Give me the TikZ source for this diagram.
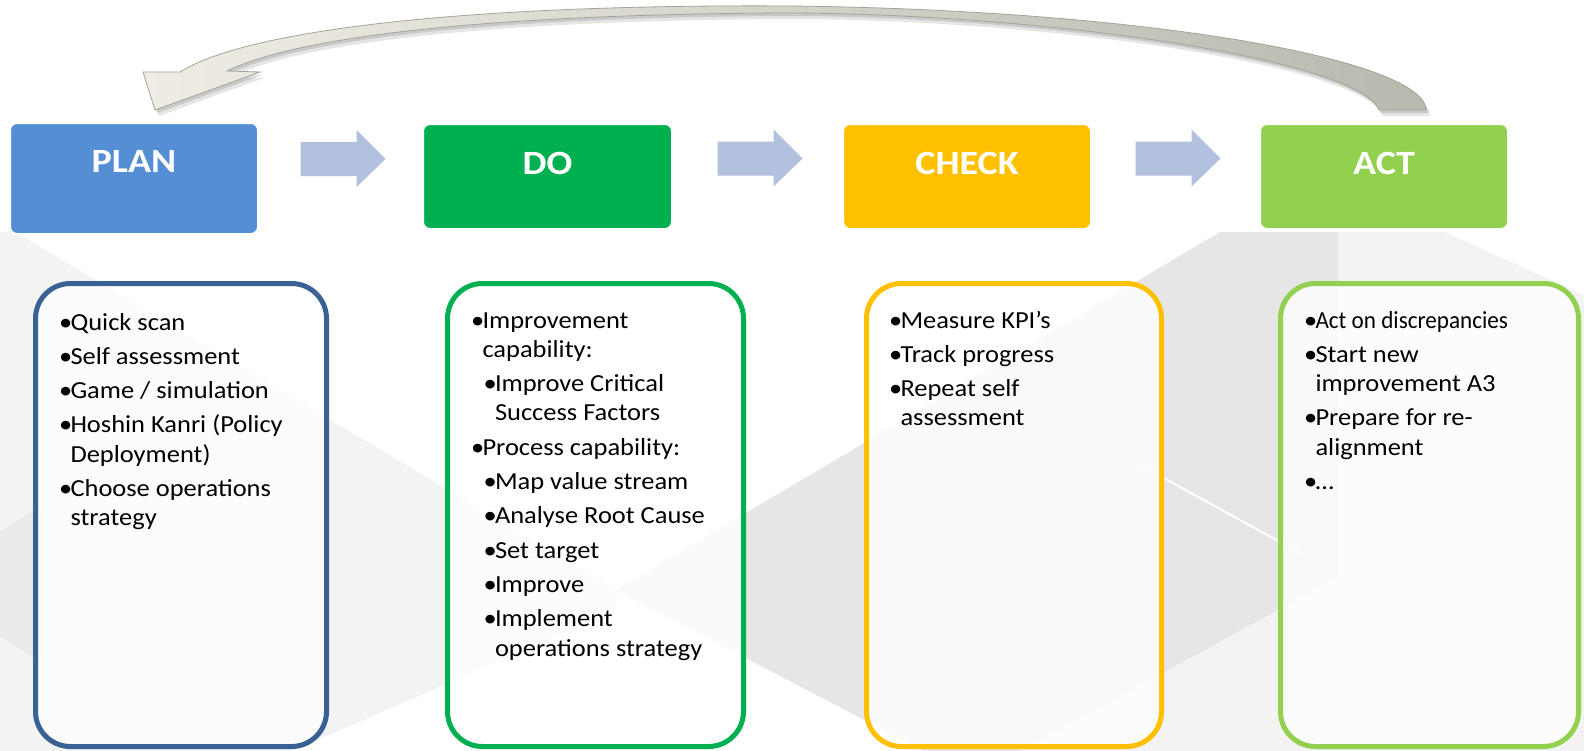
\documentclass[tikz,border=0pt]{standalone}
\usepackage{fontspec}
\usepackage{graphicx}
\setmainfont{Carlito}[FakeStretch=1.08]
\newfontfamily\hdrfont{Carlito}[FakeStretch=1.12]
\usetikzlibrary{calc}
\definecolor{plancol}{HTML}{558ED5}
\definecolor{docol}{HTML}{00B050}
\definecolor{checkcol}{HTML}{FFC000}
\definecolor{actcol}{HTML}{92D050}
\definecolor{boxblue}{HTML}{3A6194}
\definecolor{arrowcol}{HTML}{B2C1DD}
\definecolor{cyclelight}{HTML}{EFEDE3}
\definecolor{cycledark}{HTML}{B9B9AF}
\definecolor{cycleedge}{HTML}{A3A39C}
\definecolor{bgdark}{HTML}{E6E6E6}
\definecolor{bgmid}{HTML}{EBEBEB}
\definecolor{bglight}{HTML}{F3F3F3}
\newcommand\listsetup{\raggedright\fontsize{24.5}{29.3}\selectfont\setlength\parskip{5pt}}
\newcommand\bul[1]{\par\hangindent=11.5pt\hangafter=1\noindent\makebox[11.5pt][l]{\textbullet}#1}
\newcommand\subbul[1]{\par\hangindent=24pt\hangafter=1\noindent\hspace*{12.5pt}\makebox[11.5pt][l]{\textbullet}#1}
\newcommand\pdcapath{(1426,110) .. controls (1425,60) and (1150,10) .. (790,6)
  .. controls (480,4) and (250,28) .. (180,72) -- (143,72) -- (155,110) -- (260,72) -- (227,71)
  .. controls (300,35) and (500,14) .. (790,13) .. controls (1050,14) and (1360,60) .. (1379,110) -- cycle}
\tikzset{
  hdr/.style={draw=white, line width=2pt, rounded corners=7pt, inner sep=0pt, outer sep=0pt},
  hdrtext/.style={text=white, font=\hdrfont\fontsize{34}{40}\selectfont\bfseries, anchor=base, inner sep=0pt},
  listbox/.style={line width=5pt, rounded corners=35pt, fill=white, fill opacity=0.8, inner sep=0pt, outer sep=0pt},
  listtext/.style={anchor=base west, inner sep=0pt, outer sep=0pt},
  flowarrow/.style={fill=arrowcol},
}
\begin{document}
\begin{tikzpicture}[x=1pt, y=-1pt]
\useasboundingbox (0,0) rectangle (1584,750);
% background watermark
\begin{scope}
  \clip (0,0) rectangle (1584,750);
  \fill[white] (0,0) rectangle (1584,750);
  \fill[bglight] (15,232) -- (616,590) -- (616,610) -- (180,800) -- (0,800) -- (0,232) -- cycle;
  \fill[bgmid] (0,532) -- (45,503) -- (45,665) -- (0,636) -- cycle;
  \fill[bglight] (1338,232) -- (1445,232) -- (1584,295) -- (1584,760) -- (1005,760) -- (1338,577) -- cycle;
  \fill[bgdark] (616,590) -- (1220,232) -- (1338,232) -- (1338,577) -- (973,777) -- cycle;
  \draw[white, line width=2pt] (1140,465) -- (1300,553);
\end{scope}
% return arrow
\fill[black, opacity=0.10, shift={(4,6)}] \pdcapath;
\fill[black, opacity=0.12, shift={(2,3)}] \pdcapath;
\shadedraw[left color=cyclelight, right color=cycledark, draw=cycleedge, line width=0.8pt] \pdcapath;
% header boxes
\node[hdr, fill=plancol, minimum width=248pt, minimum height=111pt] (plan) at (134,178.5) {};
\node[hdr, fill=docol, minimum width=249pt, minimum height=105pt] (do) at (547.5,176.5) {};
\node[hdr, fill=checkcol, minimum width=248pt, minimum height=105pt] (check) at (967,176.5) {};
\node[hdr, fill=actcol, minimum width=248pt, minimum height=105pt] (act) at (1384,176.5) {};
\node[hdrtext] (plantext) at (134,172) {PLAN};
\node[hdrtext] (dotext) at (547.5,174) {DO};
\node[hdrtext] (checktext) at (967,174) {CHECK};
\node[hdrtext] (acttext) at (1384,174) {ACT};
% flow arrows
\begin{scope}[shift={($(plan.east)!0.5!(do.west)+(2.5,-18.5)$)}]
  \fill[flowarrow] (-42.5,-17) -- (13.5,-17) -- (13.5,-29) -- (42.5,0) -- (13.5,28) -- (13.5,17) -- (-42.5,17) -- cycle;
\end{scope}
\begin{scope}[shift={($(do.east)!0.5!(check.west)+(2.5,-18)$)}]
  \fill[flowarrow] (-42.5,-17) -- (13.5,-17) -- (13.5,-29) -- (42.5,0) -- (13.5,28) -- (13.5,17) -- (-42.5,17) -- cycle;
\end{scope}
\begin{scope}[shift={($(check.east)!0.5!(act.west)+(2.5,-18)$)}]
  \fill[flowarrow] (-42.5,-17) -- (13.5,-17) -- (13.5,-29) -- (42.5,0) -- (13.5,28) -- (13.5,17) -- (-42.5,17) -- cycle;
\end{scope}
% content boxes
\node[listbox, draw=boxblue, minimum width=291pt, minimum height=463pt] (planlist) at (181,515) {};
\node[listbox, draw=docol, minimum width=296pt, minimum height=463pt] (dolist) at (595.5,515) {};
\node[listbox, draw=checkcol, minimum width=295pt, minimum height=463pt] (checklist) at (1014,515) {};
\node[listbox, draw=actcol, minimum width=298pt, minimum height=463pt] (actlist) at (1429.5,515) {};
% texts
\node[listtext] (plantxt) at (59,330) {\parbox[t]{262pt}{\listsetup
  \bul{Quick scan}\bul{Self assessment}\bul{Game / simulation}%
  \bul{Hoshin Kanri (Policy\newline Deployment)}\bul{Choose operations\newline strategy}}};
\node[listtext] (dotxt) at (471,328) {\parbox[t]{262pt}{\listsetup
  \bul{Improvement\newline capability:}\subbul{Improve Critical\newline Success Factors}%
  \bul{Process capability:}\subbul{Map value stream}\subbul{Analyse Root Cause}%
  \subbul{Set target}\subbul{Improve}\subbul{Implement\newline operations strategy}}};
\node[listtext] (checktxt) at (889,328) {\parbox[t]{262pt}{\listsetup
  \bul{Measure KPI’s}\bul{Track progress}\bul{Repeat self\newline assessment}}};
\node[listtext] (acttxt) at (1304,328) {\parbox[t]{262pt}{\listsetup
  \bul{\scalebox{0.875}[1]{Act on discrepancies}}\bul{Start new\newline improvement A3}\bul{Prepare for re-\newline alignment}\bul{…}}};
\end{tikzpicture}
\end{document}
